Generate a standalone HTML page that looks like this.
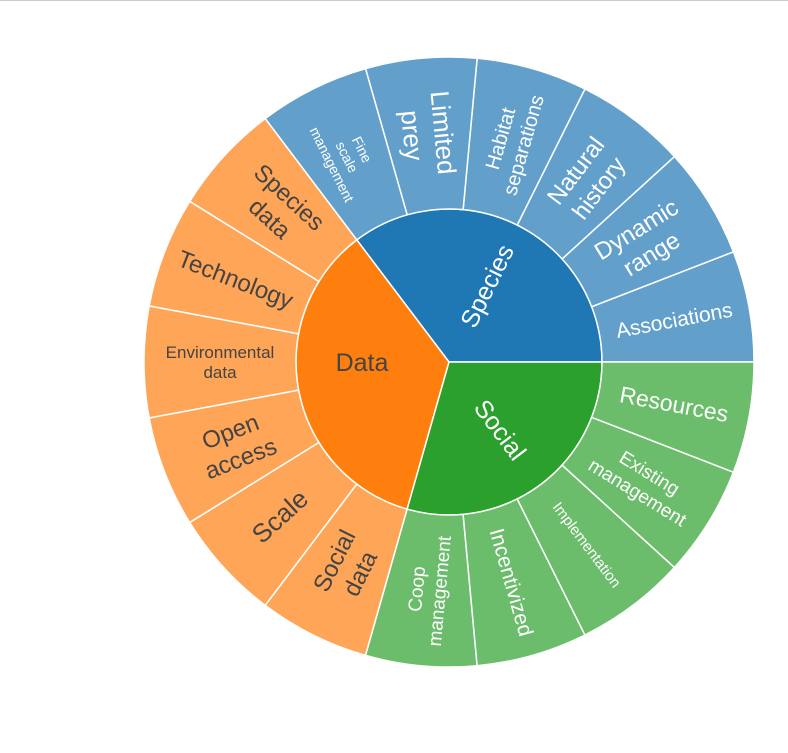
<!DOCTYPE html>
<html><head><meta charset="utf-8"><style>
html,body{margin:0;padding:0;background:#fff;}
svg{display:block;font-family:"Liberation Sans","DejaVu Sans",sans-serif;}
</style></head><body>
<svg id="chart" width="788" height="753">
<line x1="0" y1="0.5" x2="788" y2="0.5" stroke="#ccc"></line>
</svg>
<script>
const parents = ["Species","Data","Social"];
const parentColors = ["#1f77b4","#ff7f0e","#2ca02c"];
const leafColors = ["#62a0cb","#ffa557","#6bbd6b"];
const parentTextColors = ["#fff","#444","#fff"];
const parentFont = [25,25,25];
const leafLabels = [
 ["Associations","Dynamic|range","Natural|history","Habitat|separations","Limited|prey","Fine|scale|management"],
 ["Species|data","Technology","Environmental|data","Open|access","Scale","Social|data"],
 ["Coop|management","Incentivized","Implementation","Existing|management","Resources"]
];
const leafValues = [[1,1,1,1,1,1],[1,1,1,1,1,1],[1,1,1,1,1]];
const leafFont = [[21,24,24,20,26,14],[24,24,17,24,26,24],[19,21,15,19,23]];

const NS="http://www.w3.org/2000/svg";
const svg=document.getElementById('chart');
const cx=449, cy=362, r0=153, r1=305;
const total=leafValues.flat().reduce((a,b)=>a+b,0);
function pt(r,a){const t=a*Math.PI/180;return [cx+r*Math.cos(t), cy-r*Math.sin(t)];}
function arc(ri,ro,a0,a1){
  const large=(a1-a0)>180?1:0;
  const p0=pt(ro,a0),p1=pt(ro,a1);
  let d=`M${p0[0]},${p0[1]} A${ro},${ro} 0 ${large} 0 ${p1[0]},${p1[1]}`;
  if(ri>0){const q1=pt(ri,a1),q0=pt(ri,a0);d+=` L${q1[0]},${q1[1]} A${ri},${ri} 0 ${large} 1 ${q0[0]},${q0[1]} Z`;}
  else d+=` L${cx},${cy} Z`;
  return d;
}
function label(text,r,a,size,color,rotate,name){
  const [x,y]=pt(r,a);
  let rot=0;
  if(rotate){let n=((a%360)+360)%360; if(n>180)n-=360; rot=(n>90||n<-90)?180-n:-n;}
  const g=document.createElementNS(NS,'text');
  
  
  g.setAttribute('transform',`translate(${x},${y}) rotate(${rot})`);
  g.setAttribute('text-anchor','middle');
  g.setAttribute('font-size',size);
  g.setAttribute('fill',color);
  const lines=text.split('|');
  lines.forEach((l,i)=>{
    const ts=document.createElementNS(NS,'tspan');
    ts.setAttribute('x',0);
    ts.setAttribute('y',(i-(lines.length-1)/2)*size*1.2+size*0.35);
    ts.textContent=l;g.appendChild(ts);
  });
  svg.appendChild(g);
}
let a=0;
parents.forEach((p,pi)=>{
  const vals=leafValues[pi];
  const sum=vals.reduce((x,y)=>x+y,0);
  const span=sum/total*360;
  const pa0=a;
  const ps=document.createElementNS(NS,'path');
  
  
  ps.setAttribute('d',arc(0,r0,pa0,pa0+span));
  ps.setAttribute('fill',parentColors[pi]);ps.setAttribute('stroke','#fff');ps.setAttribute('stroke-width','1.5');
  svg.appendChild(ps);
  let la=a;
  vals.forEach((v,li)=>{
    const s=v/total*360;
    const lp=document.createElementNS(NS,'path');
    
    
    lp.setAttribute('d',arc(r0,r1,la,la+s));
    lp.setAttribute('fill',leafColors[pi]);lp.setAttribute('stroke','#fff');lp.setAttribute('stroke-width','1.5');
    svg.appendChild(lp);
    la+=s;
  });
  a+=span;
});
a=0;
parents.forEach((p,pi)=>{
  const vals=leafValues[pi];
  const sum=vals.reduce((x,y)=>x+y,0);
  const span=sum/total*360;
  const mid=a+span/2;
  if(p==="Data") label(p,87,180,parentFont[pi],parentTextColors[pi],false,'label-'+p.toLowerCase());
  else label(p,85,mid,parentFont[pi],parentTextColors[pi],true,'label-'+p.toLowerCase());
  let la=a;
  vals.forEach((v,li)=>{
    const s=v/total*360;
    label(leafLabels[pi][li],229,la+s/2,leafFont[pi][li],parentTextColors[pi],true,'label-'+leafLabels[pi][li].replace(/\|/g,'-').toLowerCase());
    la+=s;
  });
  a+=span;
});
</script>
</body></html>
